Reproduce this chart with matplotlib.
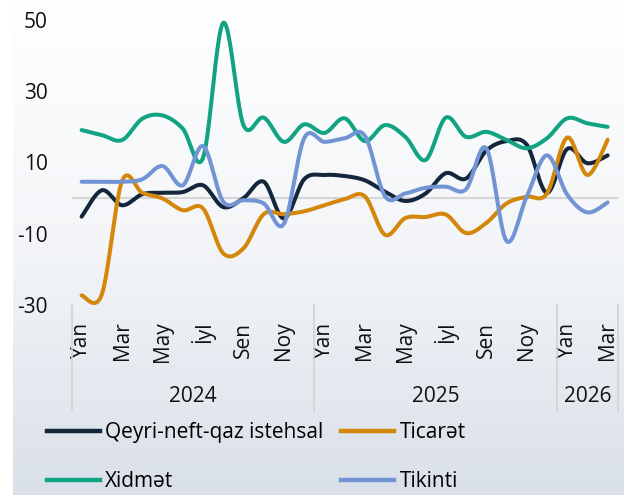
import numpy as np
import matplotlib
matplotlib.use("Agg")
import matplotlib.pyplot as plt
from matplotlib.lines import Line2D
from matplotlib.colors import LinearSegmentedColormap

plt.rcParams['font.family'] = ['Open Sans', 'DejaVu Sans']
plt.rcParams['axes.unicode_minus'] = False

# monthly values, Jan 2024 .. Mar 2026
month_labels = ['Yan', '', 'Mar', '', 'May', '', 'İyl', '', 'Sen', '', 'Noy', '',
                'Yan', '', 'Mar', '', 'May', '', 'İyl', '', 'Sen', '', 'Noy', '',
                'Yan', '', 'Mar']
years = ['2024', '2025', '2026']
year_lengths = [12, 12, 3]

istehsal = [-5.2, 2.2, -2.0, 1.1, 1.5, 1.7, 3.6, -2.5, 0.0, 4.6, -5.7, 5.3,
            6.5, 6.2, 5.0, 1.8, -0.8, 1.3, 7.0, 5.5, 13.3, 16.0, 15.0, 1.5,
            13.8, 9.8, 12.0]
ticaret = [-27.3, -27.0, 4.8, 1.5, -0.1, -3.4, -2.9, -15.5, -14.1, -4.5, -4.5, -3.7,
           -2.0, -0.3, 0.5, -10.3, -5.6, -5.3, -4.6, -9.8, -7.0, -1.5, 0.4, 1.3,
           17.0, 6.5, 16.4]
xidmet = [19.1, 17.7, 16.3, 22.3, 23.2, 19.5, 11.3, 49.2, 20.5, 22.6, 15.8, 20.7,
          18.3, 22.4, 16.0, 20.5, 17.2, 10.7, 22.6, 17.2, 18.6, 16.3, 14.0, 16.8,
          22.4, 21.0, 20.0]
tikinti = [4.6, 4.6, 4.6, 5.3, 9.0, 3.6, 14.6, -1.0, -0.6, -1.5, -7.2, 16.8,
           15.8, 16.8, 17.5, 0.5, 1.3, 2.9, 3.2, 2.5, 14.0, -12.0, 0.4, 12.0,
           1.0, -4.0, -1.2]

series = [
    ('Qeyri-neft-qaz istehsal', istehsal, '#13263c'),
    ('Ticarət', ticaret, '#d4870a'),
    ('Xidmət', xidmet, '#12a383'),
    ('Tikinti', tikinti, '#7394d4'),
]

FS = 15


def smooth(y, n=24):
    """Catmull-Rom curve through the points (like a spreadsheet 'smoothed line')."""
    pts = np.column_stack([np.arange(len(y), dtype=float), np.asarray(y, float)])
    ext = np.vstack([pts[0], pts, pts[-1]])
    t = np.linspace(0, 1, n, endpoint=False)[:, None]
    h00 = 2 * t**3 - 3 * t**2 + 1
    h10 = t**3 - 2 * t**2 + t
    h01 = -2 * t**3 + 3 * t**2
    h11 = t**3 - t**2
    out = []
    for i in range(len(pts) - 1):
        p0, p1, p2, p3 = ext[i], ext[i + 1], ext[i + 2], ext[i + 3]
        m1 = (p2 - p0) / 2
        m2 = (p3 - p1) / 2
        out.append(h00 * p1 + h10 * m1 + h01 * p2 + h11 * m2)
    out.append(pts[-1:])
    c = np.vstack(out)
    return c[:, 0], c[:, 1]


W, H = 628, 495
fig = plt.figure(figsize=(W / 100, H / 100), dpi=100)

# soft vertical gradient behind everything
bg = fig.add_axes([0, 0, 1, 1], zorder=-5)
cmap = LinearSegmentedColormap.from_list('bg', ['#ffffff', '#f3f5f8', '#dae0e9'])
grad = np.linspace(0, 1, 256)[:, None]
bg.imshow(grad, aspect='auto', cmap=cmap, extent=[13, 624, H, 0])
bg.set_xlim(0, W)
bg.set_ylim(H, 0)
bg.axis('off')

left, right, top, bottom = 71.5, 617.75, 20, 305
ax = fig.add_axes([left / W, 1 - bottom / H, (right - left) / W, (bottom - top) / H])
ax.set_facecolor('none')

n = len(month_labels)
ax.set_xlim(-0.5, n - 0.5)
ax.set_ylim(-30, 50)

ax.axhline(0, color='#d6d6d6', lw=1.5, zorder=1)

for name, vals, col in series:
    xs, ys = smooth(vals)
    ax.plot(xs, ys, color=col, lw=2.9, solid_capstyle='round', zorder=3)

ax.set_yticks([50, 30, 10, -10, -30])
ax.set_xticks(np.arange(n))
ax.set_xticklabels(month_labels, rotation=90, fontsize=FS, color='#111111')
ax.tick_params(axis='x', length=0, pad=12)
ax.tick_params(axis='y', length=0, pad=17, labelsize=FS, labelcolor='#111111')
for s in ax.spines.values():
    s.set_visible(False)

# year groups below the month labels
sep_y0 = 1 - bottom / H
sep_y1 = 1 - 411 / H
bounds = np.concatenate([[0], np.cumsum(year_lengths)]) - 0.5
to_fig = lambda xd: (left + (xd + 0.5) / n * (right - left)) / W
for b in bounds:
    fig.add_artist(Line2D([to_fig(b), to_fig(b)], [sep_y0, sep_y1],
                          color='#d3d3d3', lw=1.2))
for yr, a, b in zip(years, bounds[:-1], bounds[1:]):
    fig.text((to_fig(a) + to_fig(b)) / 2, 1 - 397 / H, yr, ha='center', va='center',
             fontsize=FS, color='#111111')

handles = [Line2D([], [], color=c, lw=3.2) for _, _, c in series]
labels = [s[0] for s in series]
order = [0, 2, 1, 3]
fig.legend([handles[i] for i in order], [labels[i] for i in order], ncol=2,
           loc='upper left', bbox_to_anchor=(47 / W, 1 - 422 / H), frameon=False,
           fontsize=FS, handlelength=2.55, handletextpad=0.25, columnspacing=0.85,
           labelspacing=1.35, borderaxespad=0, borderpad=0)

fig.savefig('out.png', dpi=100)
